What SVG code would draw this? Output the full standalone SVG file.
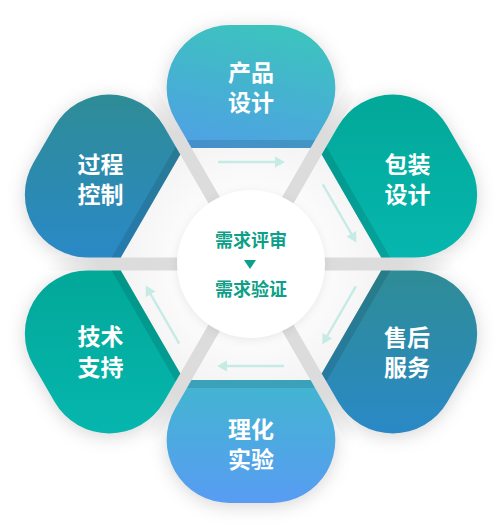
<svg xmlns="http://www.w3.org/2000/svg" xmlns:xlink="http://www.w3.org/1999/xlink" width="502" height="527" viewBox="0 0 502 527">
<style>
.lbl{font-family:"Liberation Sans","Noto Sans CJK SC",sans-serif;font-weight:700;font-size:23px;fill:#ffffff;text-anchor:middle}
.ctr{font-family:"Liberation Sans","Noto Sans CJK SC",sans-serif;font-weight:700;font-size:18px;fill:#0e9f88;text-anchor:middle}
.strip{fill:#000;fill-opacity:0.11}
.arrow line{stroke:#c6ebe4;stroke-width:2.4}
.arrow polygon{fill:#c6ebe4}
</style>
<defs>
<filter id="soft" x="-30%" y="-30%" width="160%" height="160%"><feGaussianBlur stdDeviation="9"/></filter>
<filter id="soft2" x="-30%" y="-30%" width="160%" height="160%"><feGaussianBlur stdDeviation="5"/></filter>
<linearGradient id="band" x1="0" y1="0" x2="1" y2="0">
<stop offset="0" stop-color="#dcdcdc"/><stop offset="0.74" stop-color="#dcdcdc"/><stop offset="1" stop-color="#e4e4e4" stop-opacity="0"/>
</linearGradient>
<radialGradient id="hexg" gradientUnits="userSpaceOnUse" cx="251" cy="264" r="134">
<stop offset="0.5" stop-color="#fdfdfd"/><stop offset="1" stop-color="#f3f3f3"/>
</radialGradient>
<linearGradient id="gTop" x1="0.65" y1="0" x2="0.35" y2="1">
<stop offset="0" stop-color="#3cc4bd"/><stop offset="1" stop-color="#4ea2e3"/>
</linearGradient>
<linearGradient id="gBot" x1="0.5" y1="0" x2="0.5" y2="1">
<stop offset="0" stop-color="#42b6cf"/><stop offset="1" stop-color="#589cf3"/>
</linearGradient>
<linearGradient id="gTeal" x1="0.5" y1="0" x2="0.5" y2="1">
<stop offset="0" stop-color="#02a898"/><stop offset="1" stop-color="#06b6ae"/>
</linearGradient>
<linearGradient id="gSteel" x1="0.5" y1="0" x2="0.5" y2="1">
<stop offset="0" stop-color="#2e8c96"/><stop offset="1" stop-color="#2a89c6"/>
</linearGradient>
<path id="pTop" d="M191.5,148 L175.1,119.5 A63,63 0 0 1 229.6,25 L272.4,25 A63,63 0 0 1 326.9,119.5 L310.5,148 Z"/>
<path id="pUR" d="M321.7,154.5 L338.2,126 A63,63 0 0 1 447.3,126 L468.7,163 A63,63 0 0 1 414.1,257.5 L381.2,257.5 Z"/>
<path id="pLR" d="M381.2,270.5 L414.1,270.5 A63,63 0 0 1 468.7,365 L447.3,402 A63,63 0 0 1 338.2,402 L321.7,373.5 Z"/>
<path id="pBot" d="M310.5,380 L326.9,408.5 A63,63 0 0 1 272.4,503 L229.6,503 A63,63 0 0 1 175.1,408.5 L191.5,380 Z"/>
<path id="pLL" d="M180.3,373.5 L163.8,402 A63,63 0 0 1 54.7,402 L33.3,365 A63,63 0 0 1 87.9,270.5 L120.8,270.5 Z"/>
<path id="pUL" d="M120.8,257.5 L87.9,257.5 A63,63 0 0 1 33.3,163 L54.7,126 A63,63 0 0 1 163.8,126 L180.3,154.5 Z"/>
</defs>

<g id="shadow" fill="#000" fill-opacity="0.16" filter="url(#soft)" transform="translate(0,3)">
<use xlink:href="#pTop"/><use xlink:href="#pUR"/><use xlink:href="#pLR"/><use xlink:href="#pBot"/><use xlink:href="#pLL"/><use xlink:href="#pUL"/>
<polygon points="385,264 318,148 184,148 117,264 184,380 318,380"/>
</g>

<polygon id="hexagon" points="385,264 318,148 184,148 117,264 184,380 318,380" fill="url(#hexg)"/>

<g id="bands" fill="url(#band)">
<rect x="0" y="-6.5" width="205" height="13" transform="translate(251 264) rotate(0)"/>
<rect x="0" y="-6.5" width="205" height="13" transform="translate(251 264) rotate(60)"/>
<rect x="0" y="-6.5" width="205" height="13" transform="translate(251 264) rotate(120)"/>
<rect x="0" y="-6.5" width="205" height="13" transform="translate(251 264) rotate(180)"/>
<rect x="0" y="-6.5" width="205" height="13" transform="translate(251 264) rotate(240)"/>
<rect x="0" y="-6.5" width="205" height="13" transform="translate(251 264) rotate(300)"/>
</g>

<g id="node-product">
<use xlink:href="#pTop" fill="url(#gTop)"/>
<path class="strip" d="M191.5,148 L186.9,140 L315.1,140 L310.5,148 Z"/>
<text class="lbl"><tspan x="251" y="81">产品</tspan><tspan x="251" y="111">设计</tspan></text>
</g>
<g id="node-package">
<use xlink:href="#pUR" fill="url(#gTeal)"/>
<path class="strip" d="M321.7,154.5 L326.3,146.5 L390.4,257.5 L381.2,257.5 Z"/>
<text class="lbl"><tspan x="407.5" y="173">包装</tspan><tspan x="407.5" y="203">设计</tspan></text>
</g>
<g id="node-service">
<use xlink:href="#pLR" fill="url(#gSteel)"/>
<path class="strip" d="M381.2,270.5 L390.4,270.5 L326.3,381.5 L321.7,373.5 Z"/>
<text class="lbl"><tspan x="407" y="346">售后</tspan><tspan x="407" y="376">服务</tspan></text>
</g>
<g id="node-lab">
<use xlink:href="#pBot" fill="url(#gBot)"/>
<path class="strip" d="M310.5,380 L315.1,388 L186.9,388 L191.5,380 Z"/>
<text class="lbl"><tspan x="251" y="438">理化</tspan><tspan x="251" y="468">实验</tspan></text>
</g>
<g id="node-support">
<use xlink:href="#pLL" fill="url(#gTeal)"/>
<path class="strip" d="M180.3,373.5 L175.7,381.5 L111.6,270.5 L120.8,270.5 Z"/>
<text class="lbl"><tspan x="100.5" y="345">技术</tspan><tspan x="100.5" y="376">支持</tspan></text>
</g>
<g id="node-process">
<use xlink:href="#pUL" fill="url(#gSteel)"/>
<path class="strip" d="M120.8,257.5 L111.6,257.5 L175.7,146.5 L180.3,154.5 Z"/>
<text class="lbl"><tspan x="100.5" y="173">过程</tspan><tspan x="100.5" y="203">控制</tspan></text>
</g>

<g id="node-center">
<circle cx="251" cy="266" r="74" fill="#000" fill-opacity="0.08" filter="url(#soft2)"/>
<circle cx="251" cy="264" r="74" fill="#ffffff"/>
<text class="ctr" x="251" y="247">需求评审</text>
<polygon points="244,260 256,260 250,269" fill="#0e9f88"/>
<text class="ctr" x="251" y="296">需求验证</text>
</g>

<g id="connectors" class="arrow">
<g transform="rotate(0 251 264)"><line x1="218" y1="162" x2="277" y2="162"/><polygon points="275,156.5 285,162 275,167.5"/></g>
<g transform="rotate(60 251 264)"><line x1="218" y1="162" x2="277" y2="162"/><polygon points="275,156.5 285,162 275,167.5"/></g>
<g transform="rotate(120 251 264)"><line x1="218" y1="162" x2="277" y2="162"/><polygon points="275,156.5 285,162 275,167.5"/></g>
<g transform="rotate(180 251 264)"><line x1="218" y1="162" x2="277" y2="162"/><polygon points="275,156.5 285,162 275,167.5"/></g>
<g transform="rotate(240 251 264)"><line x1="218" y1="162" x2="277" y2="162"/><polygon points="275,156.5 285,162 275,167.5"/></g>
</g>
</svg>
